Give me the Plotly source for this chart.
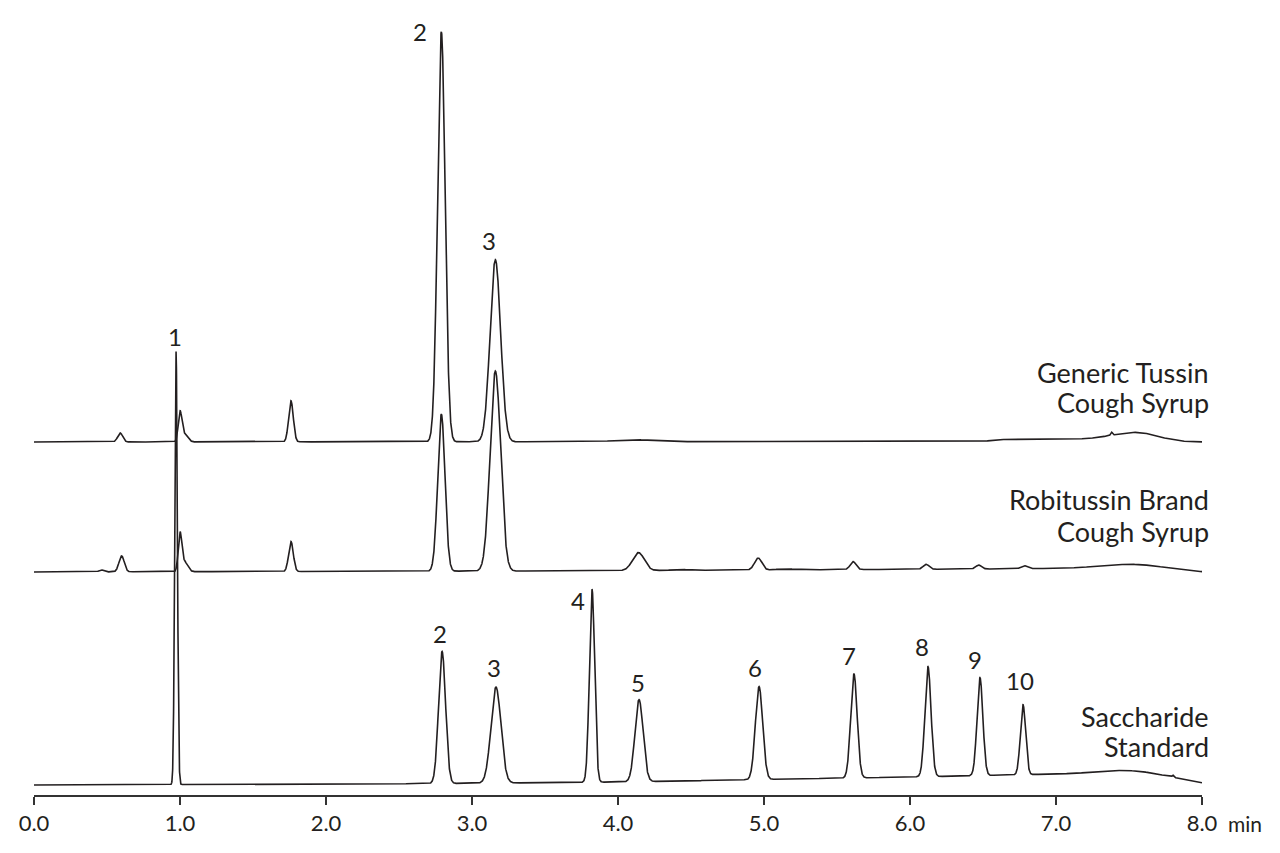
import numpy as np
import plotly.graph_objects as go

# ---------------- data ----------------
# Peak tables: retention time (min), peak height (signal units), peak width sigma (min)
generic_rt = [0.59, 1.00, 1.03, 1.76, 2.79, 3.16, 4.10, 7.38, 7.55]
generic_h = [9, 28, 8, 41, 410, 182, 2, 3, 8]
generic_sd = [0.017, 0.012, 0.022, 0.016, 0.026, 0.036, 0.12, 0.006, 0.15]
generic_drift_t = [0.0, 6.5, 6.6, 7.3, 7.85, 8.0]
generic_drift = [0, 0.5, 2.5, 3, 0, 0]

robi_rt = [0.46, 0.60, 1.00, 1.03, 1.76, 2.79, 3.16, 4.14, 4.42, 4.96, 5.15, 5.61, 6.11, 6.47, 6.78, 7.55]
robi_h = [2, 16, 36, 10, 30, 157, 200, 18, 1, 12, 1, 8, 5, 4, 3, 5]
robi_sd = [0.015, 0.018, 0.012, 0.022, 0.016, 0.025, 0.036, 0.04, 0.05, 0.025, 0.06, 0.02, 0.02, 0.02, 0.02, 0.2]
robi_drift_t = [0.0, 3.5, 6.5, 7.3, 8.0]
robi_drift = [0, 1, 3, 4, 0]

sacch_rt = [0.973, 2.795, 3.164, 3.822, 4.144, 4.966, 5.616, 6.123, 6.479, 6.774, 7.55, 7.80]
sacch_h = [433, 132, 96, 193, 82, 93, 104, 110, 98, 70, 5, 2]
sacch_sd = [0.009, 0.024, 0.034, 0.018, 0.028, 0.025, 0.022, 0.021, 0.020, 0.018, 0.18, 0.006]
sacch_drift_t = [0.0, 2.4, 4.0, 6.0, 7.0, 7.3, 7.8, 8.0]
sacch_drift = [0, 1, 3, 8, 11, 12, 6, 2]

series_names = [["Generic Tussin", "Cough Syrup"],
                ["Robitussin Brand", "Cough Syrup"],
                ["Saccharide", "Standard"]]

tick_vals = [0, 1, 2, 3, 4, 5, 6, 7, 8]
tick_text = ["0.0", "1.0", "2.0", "3.0", "4.0", "5.0", "6.0", "7.0", "8.0"]
axis_unit = "min"

# peak number labels: (text, trace index, peak index)
peak_labels = [
    ("1", 2, 0), ("2", 0, 4), ("3", 0, 5),
    ("2", 2, 1), ("3", 2, 2), ("4", 2, 3), ("5", 2, 4), ("6", 2, 5),
    ("7", 2, 6), ("8", 2, 7), ("9", 2, 8), ("10", 2, 9),
]

# ---------------- layout constants ----------------
offsets = [353, 223, 10]          # vertical stacking of the traces
label_shift = {                   # (dx px, dy px) of the peak number from apex
    (2, 0): (-1, 15), (0, 4): (-21, 0), (0, 5): (-6, 19),
    (2, 1): (-2, 18), (2, 2): (-2, 20), (2, 3): (-14, -11), (2, 4): (-1, 17),
    (2, 5): (-4, 19), (2, 6): (-5, 18), (2, 7): (-6, 20), (2, 8): (-5, 18),
    (2, 9): (-3, 24),
}
name_y = [[423, 392], [295, 264], [79, 49]]   # px above axis line
PX_PER_MIN = 146.0
PLOT_H = 787.0
INK = "#231f20"
FONT = "Lato, 'Open Sans', sans-serif"

t = np.linspace(0, 8, 16001)


def trace_signal(rt, h, sd, dt, dv):
    y = np.interp(t, dt, dv).astype(float)
    for r, a, s in zip(rt, h, sd):
        y += a * np.exp(-0.5 * ((t - r) / s) ** 2)
    return y


tables = [
    (generic_rt, generic_h, generic_sd, generic_drift_t, generic_drift),
    (robi_rt, robi_h, robi_sd, robi_drift_t, robi_drift),
    (sacch_rt, sacch_h, sacch_sd, sacch_drift_t, sacch_drift),
]

fig = go.Figure()
for i, tab in enumerate(tables):
    sig = trace_signal(*tab) + offsets[i]
    fig.add_trace(go.Scatter(x=t, y=sig, mode="lines",
                             line=dict(color=INK, width=1.6),
                             hoverinfo="skip", showlegend=False))

annotations = []
for txt, ti, pi in peak_labels:
    rt, h, sd, dt, dv = tables[ti]
    x0 = rt[pi]
    y0 = h[pi] + np.interp(x0, dt, dv) + offsets[ti]
    dx, dy = label_shift[(ti, pi)]
    annotations.append(dict(x=x0 + dx / PX_PER_MIN, y=y0 + dy, text=txt,
                            showarrow=False, xanchor="center", yanchor="middle",
                            font=dict(family=FONT, size=24, color=INK)))

for i, lines in enumerate(series_names):
    for j, line in enumerate(lines):
        annotations.append(dict(xref="paper", yref="paper", x=1.0, xshift=9,
                                y=name_y[i][j] / PLOT_H, text=line,
                                showarrow=False, xanchor="right", yanchor="middle",
                                align="right",
                                font=dict(family=FONT, size=27, color=INK)))

annotations.append(dict(xref="paper", yref="paper", x=1.0, y=0, yshift=-28,
                        text=axis_unit, showarrow=False,
                        xanchor="left", yanchor="middle", xshift=24,
                        font=dict(family=FONT, size=21, color=INK)))

fig.update_layout(
    width=1272, height=845,
    margin=dict(l=26, r=78, t=0, b=58),
    paper_bgcolor="white", plot_bgcolor="white",
    annotations=annotations,
    xaxis=dict(range=[0, 8], tickvals=tick_vals, ticktext=tick_text,
               showgrid=False, zeroline=False, showline=True,
               linecolor="#333333", linewidth=2,
               ticks="outside", ticklen=8, tickwidth=2, tickcolor="#333333",
               tickfont=dict(family=FONT, size=22, color=INK)),
    yaxis=dict(range=[0, PLOT_H], visible=False, showgrid=False, zeroline=False),
)

fig.write_html("out.html")
